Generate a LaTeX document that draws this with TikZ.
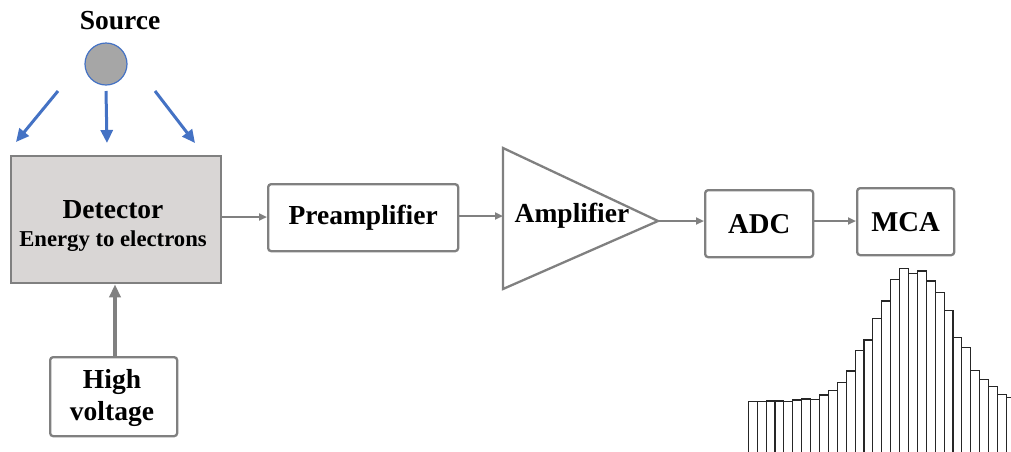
\documentclass[tikz,border=0pt]{standalone}
\usepackage{fontspec}
\setmainfont{Liberation Serif}
\usetikzlibrary{arrows.meta}
\definecolor{boxgray}{HTML}{808080}
\definecolor{detfill}{HTML}{D9D6D5}
\definecolor{srcfill}{HTML}{A6A6A6}
\definecolor{rayblue}{HTML}{4472C4}
\tikzset{
  blk/.style={draw=boxgray, line width=2.3pt, rounded corners=3pt, fill=white, inner sep=0pt, font=\bfseries\fontsize{27.5}{32}\selectfont},
  conn/.style={draw=boxgray, line width=2pt, -{Triangle[length=8pt,width=7pt]}},
  ray/.style={draw=rayblue, line width=3pt, -{Triangle[length=13pt,width=12pt]}},
  bar/.style={draw=black!85, line width=1.1pt}
}
\begin{document}
\begin{tikzpicture}[x=1pt,y=-1pt]
\useasboundingbox (0,0) rectangle (1011,451);
% source
\node[font=\bfseries\fontsize{27.5}{31}\selectfont] (srclbl) at (120,21) {Source};
\node[circle, draw=rayblue, line width=1.2pt, fill=srcfill, minimum size=42pt, inner sep=0pt] (src) at (106,64) {};
\coordinate (r1s) at (58,91);  \coordinate (r1e) at (16,142);
\coordinate (r2s) at (106,91); \coordinate (r2e) at (107,143);
\coordinate (r3s) at (155,91); \coordinate (r3e) at (195,143);
\draw[ray] (r1s) -- (r1e);
\draw[ray] (r2s) -- (r2e);
\draw[ray] (r3s) -- (r3e);
% detector
\node[draw=boxgray, line width=2.3pt, fill=detfill, minimum width=210pt, minimum height=127pt, inner sep=0pt, anchor=north west] (det) at (10,155) {};
\node[align=center, inner sep=0pt, font=\bfseries\fontsize{22.7}{28}\selectfont] (detlbl) at (113,226)
  {{\fontsize{27.5}{28}\selectfont Detector}\\Energy to electrons};
% preamp
\node[blk, minimum width=190pt, minimum height=67pt, anchor=north west] (pre) at (267,183) {Preamplifier};
% amplifier triangle
\coordinate (tt) at (503,148);
\coordinate (tb) at (503,289);
\coordinate (apex) at (658,221);
\draw[boxgray, line width=2.3pt, line join=miter] (tt) -- (apex) -- (tb) -- cycle;
\node[font=\bfseries\fontsize{27.5}{31}\selectfont, inner sep=0pt] (amp) at (572,216) {Amplifier};
% ADC, MCA
\node[blk, minimum width=108pt, minimum height=67pt, anchor=north west, font=\bfseries\fontsize{28.7}{31}\selectfont] (adc) at (704,189) {ADC};
\node[blk, minimum width=97pt, minimum height=67pt, anchor=north west, font=\bfseries\fontsize{28.7}{31}\selectfont] (mca) at (856,187) {MCA};
% high voltage
\node[blk, minimum width=127pt, minimum height=79pt, anchor=north west] (hv) at (49,356) {};
\node[align=center, inner sep=0pt, font=\bfseries\fontsize{27.5}{32}\selectfont] (hvlbl) at (112,398) {High\\voltage};
% connectors
\draw[conn] (det.east |- 0,217) -- (pre.west |- 0,217);
\draw[conn] (pre.east |- 0,216) -- (503,216);
\draw[conn] (apex) -- (adc.west |- apex);
\draw[conn] (adc.east |- 0,221) -- (mca.west |- 0,221);
\draw[draw=boxgray, line width=3.5pt, -{Triangle[length=13pt,width=11pt]}] (hv.north -| 115,0) -- (det.south -| 115,0);
% histogram
\foreach \h [count=\i from 0] in {401.7,401.7,401,401,401.7,400,399,399.3,395,390.7,382.7,371,350.7,340,318.3,301,279.3,268.3,273.3,271,281,292.7,310.7,337.3,347.3,370.3,379.3,386.7,394.7,397.3} {
  \pgfmathsetmacro{\xa}{748.3+8.9*\i}
  \pgfmathsetmacro{\xb}{\xa+8.9}
  \draw[bar] (\xa,452) -- (\xa,\h) -- (\xb,\h) -- (\xb,452);
}
\end{tikzpicture}
\end{document}
